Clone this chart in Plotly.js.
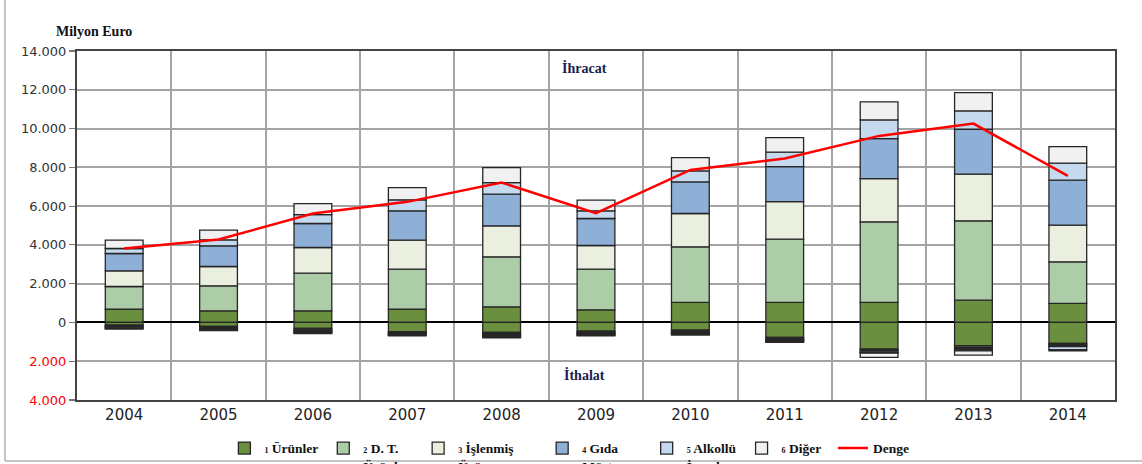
<!DOCTYPE html>
<html>
<head>
<meta charset="utf-8">
<script src="https://cdn.plot.ly/plotly-3.0.1.min.js"></script>
<style>html,body{margin:0;padding:0;background:#fff;}#chart{width:1142px;height:464px;}</style>
</head>
<body>
<div id="chart"></div>
<script>
// ---- data (million euro) ----
var years = ['2004','2005','2006','2007','2008','2009','2010','2011','2012','2013','2014'];

var expUrunler   = [687, 601, 601, 687, 807, 653, 1031, 1031, 1031, 1151, 979];
var expDT        = [1168, 1289, 1942, 2062, 2577, 2096, 2869, 3264, 4157, 4089, 2148];
var expIslenmis  = [808, 996, 1323, 1494, 1598, 1220, 1718, 1941, 2234, 2405, 1890];
var expGida      = [893, 1065, 1236, 1512, 1632, 1391, 1632, 1804, 2061, 2319, 2319];
var expAlkollu   = [258, 310, 464, 567, 602, 395, 567, 740, 962, 945, 876];
var expDiger     = [429, 498, 567, 636, 773, 550, 687, 755, 928, 945, 859];

var impUrunler   = [-140, -206, -309, -481, -515, -447, -395, -773, -1374, -1203, -1082];
var impDT        = [-60, -50, -80, -60, -60, -60, -60, -60, -70, -80, -60];
var impIslenmis  = [-40, -50, -60, -40, -40, -60, -40, -60, -70, -60, -50];
var impGida      = [-40, -50, -50, -40, -70, -40, -70, -50, -40, -60, -60];
var impAlkollu   = [-30, -40, -30, -30, -60, -40, -50, -40, -30, -60, -150];
var impDiger     = [-30, -30, -40, -36, -45, -40, -38, -48, -220, -220, -60];

var denge = [3814, 4278, 5618, 6219, 7216, 5635, 7868, 8453, 9621, 10256, 7559];

var NB = '\u00a0';
var seriesNames = [
  '<span style="font-size:8px">1</span> Ürünler',
  '<span style="font-size:8px">2</span> D. T.<br>Ürünler' + NB,
  '<span style="font-size:8px">3</span> İşlenmiş' + NB + NB + NB + NB + NB + NB + NB + '<br>Ürün',
  '<span style="font-size:8px">4</span> Gıda' + NB + NB + NB + NB + NB + NB + NB + '<br>Müst.',
  '<span style="font-size:8px">5</span> Alkollü<br>İçecek',
  '<span style="font-size:8px">6</span> Diğer' + NB + NB
];
var dengeName = 'Denge';

var yTickVals = [14000, 12000, 10000, 8000, 6000, 4000, 2000, 0, -2000, -4000];
var yTickText = ['14.000','12.000','10.000','8.000','6.000','4.000','2.000','0',
                 '<span style="color:#ff0000">2.000</span>','<span style="color:#ff0000">4.000</span>'];

// ---- styles ----
var colors = ['#6a8f3f', '#adcca8', '#ebefdf', '#8eafd6', '#c5d9ef', '#f1f1f1'];
var exps = [expUrunler, expDT, expIslenmis, expGida, expAlkollu, expDiger];
var imps = [impUrunler, impDT, impIslenmis, impGida, impAlkollu, impDiger];

var traces = [];
for (var i = 0; i < 6; i++) {
  traces.push({
    type: 'bar', x: years, y: exps[i], name: seriesNames[i], legendgroup: 'g' + i,
    width: 0.4,
    marker: {color: colors[i], line: {color: '#262626', width: 1.3}},
    hoverinfo: 'skip'
  });
}
for (var j = 0; j < 6; j++) {
  traces.push({
    type: 'bar', x: years, y: imps[j], name: seriesNames[j], legendgroup: 'g' + j,
    showlegend: false, width: 0.4,
    marker: {color: colors[j], line: {color: '#262626', width: 1.3}},
    hoverinfo: 'skip'
  });
}
traces.push({
  type: 'scatter', mode: 'lines', x: years, y: denge, name: dengeName,
  line: {color: '#ff0000', width: 2.5}, hoverinfo: 'skip'
});

var serif = 'Liberation Serif, Times New Roman, serif';
var sans = 'DejaVu Sans, Verdana, sans-serif';

var layout = {
  width: 1142, height: 464, autosize: false,
  margin: {l: 77, r: 27, t: 51, b: 64, autoexpand: false},
  paper_bgcolor: '#ffffff', plot_bgcolor: '#ffffff',
  barmode: 'relative',
  showlegend: true,
  legend: {
    orientation: 'h', x: 0.142, xanchor: 'left', y: -0.094, yanchor: 'top',
    valign: 'top', traceorder: 'normal',
    font: {family: serif, size: 13.5, color: '#111', weight: 'bold'},
    bgcolor: 'rgba(0,0,0,0)', itemwidth: 30, tracegroupgap: 0
  },
  xaxis: {
    type: 'category', tickson: 'boundaries',
    showgrid: true, gridcolor: '#a4a4a4', gridwidth: 2,
    showline: true, linecolor: '#444', linewidth: 2, mirror: true,
    ticks: '', tickfont: {family: sans, size: 15, color: '#222'},
    zeroline: false, fixedrange: true
  },
  yaxis: {
    range: [-4000, 14000], tickvals: yTickVals, ticktext: yTickText,
    showgrid: true, gridcolor: '#a4a4a4', gridwidth: 2,
    showline: true, linecolor: '#444', linewidth: 2, mirror: true,
    ticks: 'outside', ticklen: 6, tickcolor: '#777', tickwidth: 1.2,
    tickfont: {family: sans, size: 13, color: '#333'},
    zeroline: true, zerolinecolor: '#000', zerolinewidth: 2,
    fixedrange: true
  },
  annotations: [
    {text: 'Milyon Euro', xref: 'paper', yref: 'paper', x: -0.022, y: 1.055,
     xanchor: 'left', yanchor: 'middle', showarrow: false,
     font: {family: serif, size: 14, color: '#111', weight: 'bold'}},
    {text: 'İhracat', xref: 'paper', yref: 'paper', x: 0.489, y: 0.951,
     xanchor: 'center', yanchor: 'middle', showarrow: false,
     font: {family: serif, size: 14, color: '#1b1b4d', weight: 'bold'}},
    {text: 'İthalat', xref: 'paper', yref: 'paper', x: 0.489, y: 0.072,
     xanchor: 'center', yanchor: 'middle', showarrow: false,
     font: {family: serif, size: 14, color: '#1b1b4d', weight: 'bold'}}
  ],
  shapes: [
    {type: 'line', xref: 'paper', yref: 'paper', x0: -0.0694, x1: -0.0694, y0: -0.175, y1: 1.2,
     line: {color: '#b0b0b0', width: 1.5}},
    {type: 'line', xref: 'paper', yref: 'paper', x0: -0.0694, x1: 1.03, y0: -0.175, y1: -0.175,
     line: {color: '#b0b0b0', width: 1.5}}
  ]
};

Plotly.newPlot('chart', traces, layout, {displayModeBar: false, staticPlot: true});
</script>
</body>
</html>
